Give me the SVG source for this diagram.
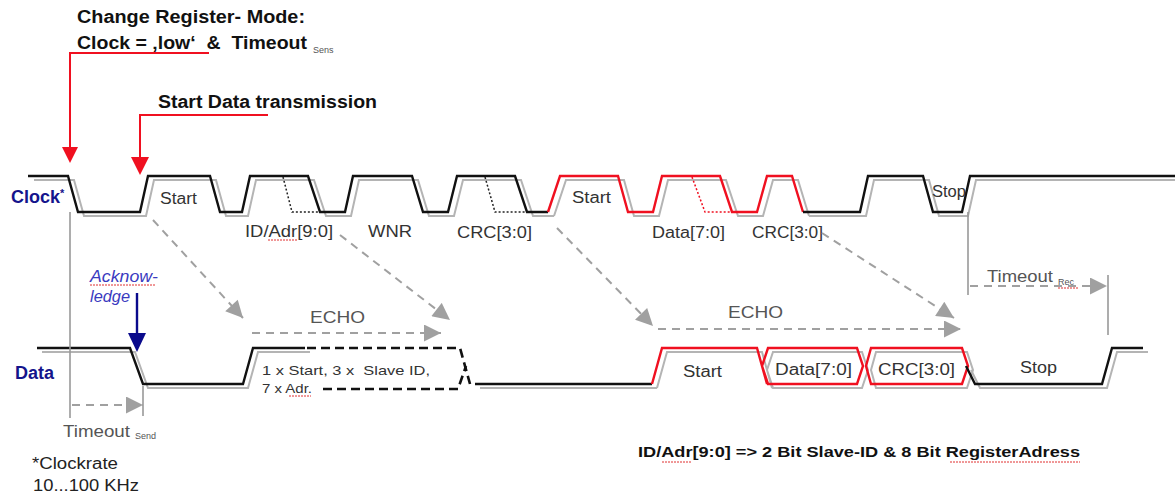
<svg xmlns="http://www.w3.org/2000/svg" xmlns:xlink="http://www.w3.org/1999/xlink" width="1175" height="497" viewBox="0 0 1175 497">
<style>
  text { font-family: "Liberation Sans", Arial, sans-serif; }
  .hdr { font-size: 18px; font-weight: bold; fill: #111; }
  .sig { font-size: 18px; font-weight: bold; fill: #14148c; }
  .lbl { font-size: 16px; fill: #333; }
  .sm { font-size: 13px; fill: #333; }
  .sub { font-size: 9px; fill: #555; }
  .gr { font-size: 16px; fill: #555; }
  .ack { font-size: 16px; font-style: italic; fill: #3a3ac0; }
  .note { font-size: 16px; fill: #222; }
  .bold15 { font-size: 15px; font-weight: bold; fill: #111; }
  .wave { fill: none; stroke-width: 2.4; stroke-linejoin: miter; }
  .blk { stroke: #111; }
  .red { stroke: #f01020; }
  .shadow { stroke: #b4b4b4; stroke-width: 2; fill: none; }
  .dotb { fill: none; stroke: #222; stroke-width: 1.5; stroke-dasharray: 2 2; }
  .dotr { fill: none; stroke: #f01020; stroke-width: 1.5; stroke-dasharray: 2 2; }
  .dashb { fill: none; stroke: #111; stroke-width: 2.6; stroke-dasharray: 9 5; }
  .dash { fill: none; stroke: #a0a0a0; stroke-width: 2; stroke-dasharray: 8 6; }
  .vline { stroke: #999; stroke-width: 1.6; fill: none; }
  .sq { fill: none; stroke: #e03030; stroke-width: 1; stroke-dasharray: 2 1; }
</style>
<defs>
  <marker id="ah" viewBox="0 0 10 10" refX="10" refY="5" markerUnits="userSpaceOnUse" markerWidth="19" markerHeight="17" orient="auto">
    <path d="M0,0 L10,5 L0,10 z" fill="#a0a0a0"/>
  </marker>
  <path id="clkA" d="M28,176 H68 L78,212 H140 L148,176 H210 L220,212 H242 L250,176 H308 L320,212 H345 L353,176 H412 L423,212 H448 L457,176 H515 L527,212 H548"/>
  <path id="clkB" d="M548,212 L560,176 H618 L628,212 H653 L662,176 H720 L732,212 H757 L767,176 H792 L803,212"/>
  <path id="clkC" d="M803,212 H860 L868,176 H923 L933,212 H962 L970,176 H1175"/>
  <path id="datA" d="M37,348 H130 L143,384 H243 L253,348 H305"/>
  <path id="datB" d="M475,384 H652"/>
  <path id="datR" d="M652,384 L662,348 H757 L767,384 M768,348 H857 L863,366 L857,384 H768 L762,366 Z M871,348 H962 L968,366 L962,384 H871 L866,366 Z"/>
  <path id="datC" d="M966,366 L975,384 H1102 L1112,348 H1143"/>
</defs>

<g id="clock-signal">
  <use xlink:href="#clkA" class="shadow" transform="translate(6,4)"/>
  <use xlink:href="#clkB" class="shadow" transform="translate(6,4)"/>
  <use xlink:href="#clkC" class="shadow" transform="translate(6,4)"/>
  <use xlink:href="#clkA" class="wave blk"/>
  <use xlink:href="#clkB" class="wave red"/>
  <use xlink:href="#clkC" class="wave blk"/>
  <path class="dotb" d="M283,177 L292,212 H320"/>
  <path class="dotb" d="M485,177 L495,212 H527"/>
  <path class="dotr" d="M692,177 L705,212 H732"/>
  <text class="sig" x="11" y="203">Clock<tspan font-size="11" dy="-6">*</tspan></text>
  <text class="lbl" x="160" y="204" textLength="37" lengthAdjust="spacingAndGlyphs">Start</text>
  <text class="lbl" x="245" y="237" textLength="88" lengthAdjust="spacingAndGlyphs">ID/Adr[9:0]</text>
  <text class="lbl" x="368" y="237" textLength="44" lengthAdjust="spacingAndGlyphs">WNR</text>
  <text class="lbl" x="457" y="238" textLength="75" lengthAdjust="spacingAndGlyphs">CRC[3:0]</text>
  <text class="lbl" x="572" y="203" textLength="39" lengthAdjust="spacingAndGlyphs">Start</text>
  <text class="lbl" x="652" y="238" textLength="73" lengthAdjust="spacingAndGlyphs">Data[7:0]</text>
  <text class="lbl" x="752" y="238" textLength="71" lengthAdjust="spacingAndGlyphs">CRC[3:0]</text>
  <text class="lbl" x="932" y="197" textLength="34" lengthAdjust="spacingAndGlyphs">Stop</text>
  <path class="sq" d="M268,240 L297,240"/>
</g>

<g id="data-signal">
  <use xlink:href="#datA" class="shadow" transform="translate(5,4)"/>
  <use xlink:href="#datB" class="shadow" transform="translate(5,4)"/>
  <use xlink:href="#datR" class="shadow" transform="translate(5,4)"/>
  <use xlink:href="#datC" class="shadow" transform="translate(5,4)"/>
  <use xlink:href="#datA" class="wave blk"/>
  <path class="dashb" d="M307,348 H460 L470,384"/>
  <path class="dashb" d="M323,389 H458 L466,366"/>
  <use xlink:href="#datB" class="wave blk"/>
  <use xlink:href="#datR" class="wave red"/>
  <use xlink:href="#datC" class="wave blk"/>
  <text class="sig" x="15" y="379">Data</text>
  <text class="sm" x="262" y="375" textLength="168" lengthAdjust="spacingAndGlyphs" xml:space="preserve">1 x Start, 3 x  Slave ID,</text>
  <text class="sm" x="262" y="393" textLength="50" lengthAdjust="spacingAndGlyphs">7 x Adr.</text>
  <path class="sq" d="M289,396 L311,396"/>
  <text class="lbl" x="683" y="377" textLength="39" lengthAdjust="spacingAndGlyphs">Start</text>
  <text class="lbl" x="775" y="375" textLength="77" lengthAdjust="spacingAndGlyphs">Data[7:0]</text>
  <text class="lbl" x="878" y="375" textLength="77" lengthAdjust="spacingAndGlyphs">CRC[3:0]</text>
  <text class="lbl" x="1020" y="373" textLength="37" lengthAdjust="spacingAndGlyphs">Stop</text>
</g>

<g id="connectors">
  <path class="vline" d="M70,212 V418"/>
  <path class="vline" d="M143,386 V416"/>
  <path class="vline" d="M968,212 V295"/>
  <path class="vline" d="M1108,275 V335"/>
  <path class="dash" d="M72,405 H143" marker-end="url(#ah)"/>
  <path class="dash" d="M153,220 L243,318" marker-end="url(#ah)"/>
  <path class="dash" d="M340,235 L450,320" marker-end="url(#ah)"/>
  <path class="dash" d="M252,333 H441" marker-end="url(#ah)"/>
  <path class="dash" d="M557,228 L653,326" marker-end="url(#ah)"/>
  <path class="dash" d="M658,329 H961" marker-end="url(#ah)"/>
  <path class="dash" d="M822,233 L954,318" marker-end="url(#ah)"/>
  <path class="dash" d="M970,286 H1107" marker-end="url(#ah)"/>
  <g id="red-arrow-1">
    <path d="M209,53 H70 V148" fill="none" stroke="#f01020" stroke-width="2"/>
    <polygon points="62,147 78,147 70,163" fill="#f01020"/>
  </g>
  <g id="red-arrow-2">
    <path d="M268,115 H140 V158" fill="none" stroke="#f01020" stroke-width="2"/>
    <polygon points="131,157 149,157 140,175" fill="#f01020"/>
  </g>
  <g id="ack-arrow">
    <path d="M137,293 V335" fill="none" stroke="#0a0a8c" stroke-width="2.4"/>
    <polygon points="128,333 146,333 137,352" fill="#0a0a8c"/>
  </g>
</g>

<g id="annotations">
  <text class="hdr" x="77" y="23" textLength="228" lengthAdjust="spacingAndGlyphs">Change Register- Mode:</text>
  <text class="hdr" x="77" y="49" textLength="230" lengthAdjust="spacingAndGlyphs" xml:space="preserve">Clock = ‚low‘  &amp;  Timeout</text>
  <text class="sub" x="313" y="53" font-size="10">Sens</text>
  <text class="hdr" x="158" y="108" textLength="219" lengthAdjust="spacingAndGlyphs">Start Data transmission</text>
  <text class="gr" x="310" y="323" textLength="55" lengthAdjust="spacingAndGlyphs">ECHO</text>
  <text class="gr" x="728" y="318" textLength="55" lengthAdjust="spacingAndGlyphs">ECHO</text>
  <text class="gr" x="987" y="282" textLength="66" lengthAdjust="spacingAndGlyphs">Timeout</text>
  <text class="sub" x="1058" y="285">Rec</text>
  <path class="sq" d="M1058,288 L1078,288"/>
  <text class="ack" x="90" y="282" textLength="68" lengthAdjust="spacingAndGlyphs">Acknow-</text>
  <text class="ack" x="90" y="302" textLength="40" lengthAdjust="spacingAndGlyphs">ledge</text>
  <path class="sq" d="M90,285 L155,285"/>
  <text class="gr" x="63" y="437" textLength="67" lengthAdjust="spacingAndGlyphs">Timeout</text>
  <text class="sub" x="135" y="439">Send</text>
  <text class="note" x="32" y="469" textLength="86" lengthAdjust="spacingAndGlyphs">*Clockrate</text>
  <text class="note" x="33" y="491" textLength="106" lengthAdjust="spacingAndGlyphs">10...100 KHz</text>
  <text class="bold15" x="638" y="457" textLength="442" lengthAdjust="spacingAndGlyphs">ID/Adr[9:0] =&gt; 2 Bit Slave-ID &amp; 8 Bit RegisterAdress</text>
  <path class="sq" d="M662,462 L692,462 M950,462 L1080,462"/>
</g>
</svg>
